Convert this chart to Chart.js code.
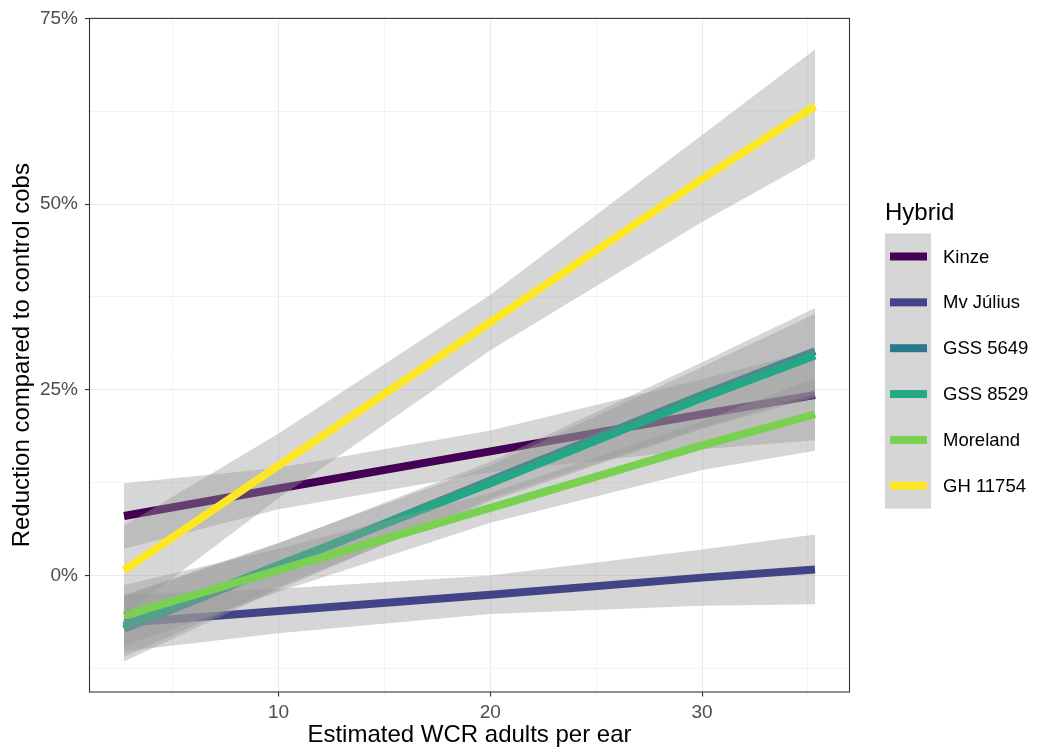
<!DOCTYPE html>
<html>
<head>
<meta charset="utf-8">
<script src="https://cdn.jsdelivr.net/npm/chart.js@4.4.1/dist/chart.umd.min.js"></script>
<style>
  html, body { margin: 0; padding: 0; background: #fff; }
  #wrap { width: 1039px; height: 750px; }
</style>
</head>
<body>
<div id="wrap"><canvas id="wcrChart" width="1039" height="750"></canvas></div>
<script>
// --- data (values in %) ---
const xValues = [2.7, 10, 20, 30, 35.33];

const hybrids = ['Kinze', 'Mv Július', 'GSS 5649', 'GSS 8529', 'Moreland', 'GH 11754'];
const hybridColors = ['#440154', '#414487', '#2A788E', '#22A884', '#7AD151', '#FDE725'];

const kinzeFit   = [8.0, 11.7, 16.7, 21.7, 24.3];
const kinzeLow   = [3.6, 8.9, 13.9, 17.0, 18.2];
const kinzeHigh  = [12.4, 14.5, 19.5, 26.4, 30.4];

const juliusFit  = [-6.4, -4.8, -2.6, -0.3, 0.8];
const juliusLow  = [-10.2, -7.8, -5.2, -4.1, -3.9];
const juliusHigh = [-2.6, -1.8, 0.0, 3.5, 5.5];

const gss5649Fit  = [-7.2, 1.2, 12.8, 24.3, 30.2];
const gss5649Low  = [-11.6, -1.9, 10.3, 19.9, 24.4];
const gss5649High = [-2.8, 4.3, 15.3, 28.7, 36.0];

const gss8529Fit  = [-6.8, 1.4, 12.4, 23.9, 29.6];
const gss8529Low  = [-11.0, -1.6, 10.0, 19.7, 24.0];
const gss8529High = [-2.6, 4.4, 14.8, 28.1, 35.2];

const morelandFit  = [-5.4, 0.7, 9.1, 17.5, 21.7];
const morelandLow  = [-9.5, -2.2, 7.1, 14.2, 16.8];
const morelandHigh = [-1.3, 3.6, 11.1, 20.8, 26.6];

const gh11754Fit  = [0.7, 14.8, 34.1, 53.4, 63.2];
const gh11754Low  = [-5.3, 10.4, 30.3, 47.6, 56.1];
const gh11754High = [6.7, 19.1, 37.8, 59.3, 70.8];

const xTickValues = [5, 10, 15, 20, 25, 30, 35];
const xTickLabels = ['', '10', '', '20', '', '30', ''];
const yTickValues = [-12.5, 0, 12.5, 25, 37.5, 50, 62.5, 75];
const yTickLabels = ['', '0%', '', '25%', '', '50%', '', '75%'];

const fits  = [kinzeFit, juliusFit, gss5649Fit, gss8529Fit, morelandFit, gh11754Fit];
const lows  = [kinzeLow, juliusLow, gss5649Low, gss8529Low, morelandLow, gh11754Low];
const highs = [kinzeHigh, juliusHigh, gss5649High, gss8529High, morelandHigh, gh11754High];

const FONT = '"Liberation Sans", Arial, sans-serif';
const ribbonFill = 'rgba(153, 153, 153, 0.4)';

const toPoints = arr => arr.map((v, i) => ({ x: xValues[i], y: v }));

// ribbon then line for every hybrid, later hybrids on top (like ggplot groups)
const datasets = [];
hybrids.forEach((name, i) => {
  const base = 100 - i * 3;
  datasets.push({
    label: name + ' low', data: toPoints(lows[i]),
    borderWidth: 0, pointRadius: 0, fill: false, order: base
  });
  datasets.push({
    label: name + ' high', data: toPoints(highs[i]),
    borderWidth: 0, pointRadius: 0, fill: '-1', backgroundColor: ribbonFill, order: base - 1
  });
  datasets.push({
    label: name, data: toPoints(fits[i]),
    borderColor: hybridColors[i], borderWidth: 8, borderCapStyle: 'butt',
    pointRadius: 0, fill: false, order: base - 2
  });
});

const isMajor = (vals, labels, v) => labels[vals.indexOf(v)] !== '';

// panel border + legend (ggplot style)
const decorPlugin = {
  id: 'decor',
  afterDatasetsDraw(chart) {
    const { ctx, chartArea: a } = chart;
    ctx.save();
    ctx.strokeStyle = '#333333';
    ctx.lineWidth = 1.1;
    ctx.strokeRect(a.left, a.top, a.right - a.left, a.bottom - a.top);
    ctx.restore();
  },
  afterDraw(chart) {
    const ctx = chart.ctx;
    const lx = 885, step = 45.85, firstY = 256.5;
    ctx.save();
    ctx.fillStyle = '#000';
    ctx.font = '24px ' + FONT;
    ctx.textBaseline = 'alphabetic';
    ctx.fillText('Hybrid', lx, 220);
    ctx.fillStyle = '#D6D6D6';
    ctx.fillRect(lx, firstY - 23, 46, step * (hybrids.length - 1) + 46);
    ctx.font = '18.5px ' + FONT;
    ctx.textBaseline = 'middle';
    hybrids.forEach((name, i) => {
      const cy = firstY + i * step;
      ctx.fillStyle = hybridColors[i];
      ctx.fillRect(lx + 5, cy - 4, 37, 8);
      ctx.fillStyle = '#000';
      ctx.fillText(name, 943, cy + 1);
    });
    ctx.restore();
  }
};

new Chart(document.getElementById('wcrChart'), {
  type: 'line',
  data: { datasets },
  options: {
    responsive: false,
    animation: false,
    layout: { padding: { top: 17, right: 189.5, left: 0, bottom: 0 } },
    plugins: { legend: { display: false }, tooltip: { enabled: false } },
    elements: { line: { tension: 0 } },
    scales: {
      x: {
        type: 'linear', min: 1.07, max: 36.96,
        afterBuildTicks: s => { s.ticks = xTickValues.map(v => ({ value: v })); },
        afterFit: s => { s.height = 58; },
        border: { display: false },
        grid: {
          color: '#EBEBEB',
          lineWidth: c => isMajor(xTickValues, xTickLabels, c.tick.value) ? 1.1 : 0.6,
          tickColor: c => isMajor(xTickValues, xTickLabels, c.tick.value) ? '#333333' : 'rgba(0,0,0,0)',
          tickWidth: 1.1,
          tickLength: 4.5
        },
        ticks: {
          autoSkip: false, maxRotation: 0, padding: 5, color: '#4D4D4D',
          font: { family: FONT, size: 19 },
          callback: v => xTickLabels[xTickValues.indexOf(v)] ?? ''
        },
        title: {
          display: true, text: 'Estimated WCR adults per ear', color: '#000',
          font: { family: FONT, size: 24 }, padding: { top: 0, bottom: 0 }
        }
      },
      y: {
        type: 'linear', min: -15.7, max: 75,
        afterBuildTicks: s => { s.ticks = yTickValues.map(v => ({ value: v })); },
        afterFit: s => { s.width = 89.5; },
        border: { display: false },
        grid: {
          color: '#EBEBEB',
          lineWidth: c => isMajor(yTickValues, yTickLabels, c.tick.value) ? 1.1 : 0.6,
          tickColor: c => isMajor(yTickValues, yTickLabels, c.tick.value) ? '#333333' : 'rgba(0,0,0,0)',
          tickWidth: 1.1,
          tickLength: 4.5
        },
        ticks: {
          autoSkip: false, padding: 7, color: '#4D4D4D',
          font: { family: FONT, size: 19 },
          callback: v => yTickLabels[yTickValues.indexOf(v)] ?? ''
        },
        title: {
          display: true, text: 'Reduction compared to control cobs', color: '#000',
          font: { family: FONT, size: 24 }, padding: { top: 8, bottom: 0 }
        }
      }
    }
  },
  plugins: [decorPlugin]
});
</script>
</body>
</html>
